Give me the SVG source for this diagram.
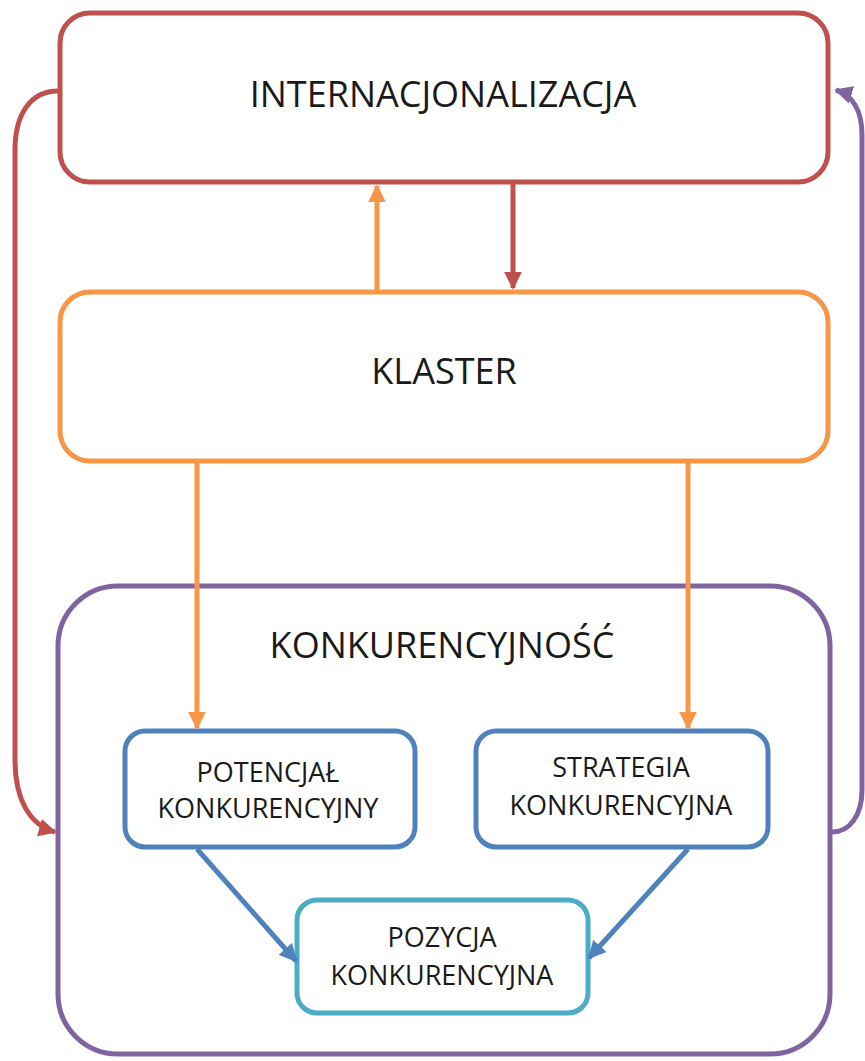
<svg xmlns="http://www.w3.org/2000/svg" width="865" height="1061" viewBox="0 0 865 1061">
  <style>
    .box { fill: #ffffff; stroke-width: 5; }
    .lbl { font-family: "Open Sans", "Liberation Sans", sans-serif; fill: #1a1a1a; text-anchor: middle; }
    .big { font-size: 36px; }
    .small { font-size: 27px; }
    .link { fill: none; stroke-width: 5; }
  </style>
  <defs>
    <marker id="ahRed" viewBox="0 0 10 10" refX="9" refY="5" markerWidth="3.6" markerHeight="3.6" orient="auto" markerUnits="strokeWidth">
      <path d="M0,0 L10,5 L0,10 z" fill="#C0504D"/>
    </marker>
    <marker id="ahOrange" viewBox="0 0 10 10" refX="9" refY="5" markerWidth="3.6" markerHeight="3.6" orient="auto" markerUnits="strokeWidth">
      <path d="M0,0 L10,5 L0,10 z" fill="#F79646"/>
    </marker>
    <marker id="ahPurple" viewBox="0 0 10 10" refX="9" refY="5" markerWidth="3.6" markerHeight="3.6" orient="auto" markerUnits="strokeWidth">
      <path d="M0,0 L10,5 L0,10 z" fill="#8064A2"/>
    </marker>
    <marker id="ahBlue" viewBox="0 0 10 10" refX="9" refY="5" markerWidth="3.6" markerHeight="3.6" orient="auto" markerUnits="strokeWidth">
      <path d="M0,0 L10,5 L0,10 z" fill="#4F81BD"/>
    </marker>
  </defs>

  <rect width="865" height="1061" fill="#ffffff"/>

  <g id="konkurencyjnosc">
    <rect class="box" x="58" y="586" width="772" height="468" rx="60" stroke="#8064A2"/>
    <text class="lbl big" x="442" y="658">KONKURENCYJNOŚĆ</text>
  </g>

  <g id="internacjonalizacja">
    <rect class="box" x="60" y="13" width="768" height="169" rx="30" stroke="#C0504D"/>
    <text class="lbl big" x="443" y="107">INTERNACJONALIZACJA</text>
  </g>

  <g id="klaster">
    <rect class="box" x="60" y="292" width="768" height="169" rx="30" stroke="#F79646"/>
    <text class="lbl big" x="444" y="384">KLASTER</text>
  </g>

  <g id="potencjal">
    <rect class="box" x="125" y="731" width="290" height="116" rx="20" stroke="#4F81BD"/>
    <text class="lbl small" x="268" y="782">POTENCJAŁ</text>
    <text class="lbl small" x="268" y="818">KONKURENCYJNY</text>
  </g>

  <g id="strategia">
    <rect class="box" x="476" y="731" width="292" height="116" rx="20" stroke="#4F81BD"/>
    <text class="lbl small" x="621" y="777">STRATEGIA</text>
    <text class="lbl small" x="621" y="815">KONKURENCYJNA</text>
  </g>

  <g id="pozycja">
    <rect class="box" x="297" y="900" width="291" height="113" rx="20" stroke="#4BACC6"/>
    <text class="lbl small" x="442" y="947">POZYCJA</text>
    <text class="lbl small" x="442" y="985">KONKURENCYJNA</text>
  </g>

  <g id="connectors">
    <!-- vertical links between the top two boxes -->
    <line class="link" x1="377" y1="290" x2="377" y2="186" stroke="#F79646" marker-end="url(#ahOrange)"/>
    <line class="link" x1="513" y1="184" x2="513" y2="288" stroke="#C0504D" marker-end="url(#ahRed)"/>
    <!-- klaster down to the two inner boxes -->
    <line class="link" x1="197" y1="463" x2="197" y2="728" stroke="#F79646" marker-end="url(#ahOrange)"/>
    <line class="link" x1="688" y1="463" x2="688" y2="728" stroke="#F79646" marker-end="url(#ahOrange)"/>
    <!-- inner boxes down to pozycja -->
    <line class="link" x1="197" y1="849" x2="296" y2="961" stroke="#4F81BD" marker-end="url(#ahBlue)"/>
    <line class="link" x1="688" y1="849" x2="589" y2="958" stroke="#4F81BD" marker-end="url(#ahBlue)"/>
    <!-- outer loops -->
    <path class="link" d="M58,91 C30,91 15,115 15,150 L15,760 C15,800 30,825 55,832" stroke="#C0504D" marker-end="url(#ahRed)"/>
    <path class="link" d="M832,832 C850,832 862,815 862,790 L862,135 C862,110 852,95 836,90" stroke="#8064A2" marker-end="url(#ahPurple)"/>
  </g>
</svg>
